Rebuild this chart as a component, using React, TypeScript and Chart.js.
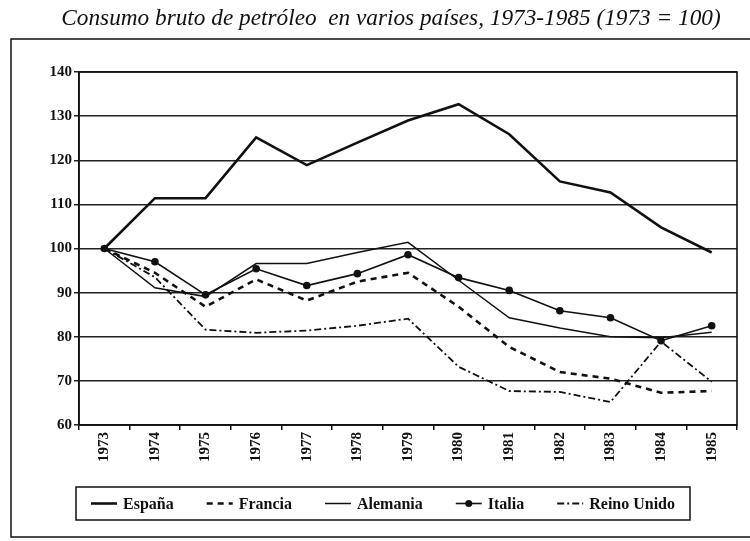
import { useEffect, useRef } from "react";
import { Chart, registerables } from "chart.js";
Chart.register(...registerables);

const title = "Consumo bruto de petróleo  en varios países, 1973-1985 (1973 = 100)";
const years = ["1973", "1974", "1975", "1976", "1977", "1978", "1979", "1980", "1981", "1982", "1983", "1984", "1985"];
const espana = [100, 111.4, 111.4, 125.2, 118.9, 124, 129, 132.7, 125.9, 115.2, 112.7, 104.8, 99.1];
const francia = [100, 94.5, 86.8, 93, 88.2, 92.5, 94.5, 86.8, 77.7, 72, 70.5, 67.3, 67.7];
const alemania = [100, 91.1, 89.1, 96.6, 96.6, 99.1, 101.4, 92.8, 84.3, 82, 80, 79.8, 81];
const italia = [100, 97, 89.5, 95.4, 91.6, 94.3, 98.6, 93.4, 90.5, 85.9, 84.3, 79.1, 82.5];
const reinoUnido = [100, 93.5, 81.6, 80.9, 81.4, 82.5, 84.1, 73.2, 67.7, 67.5, 65.2, 78.9, 69.8];
const yTicks = [60, 70, 80, 90, 100, 110, 120, 130, 140];

const INK = "#111";
const SERIF = '"Liberation Serif", "DejaVu Serif", serif';

const framePlugin = {
  id: "frame",
  beforeDatasetsDraw(chart: any) {
    const { ctx, chartArea: a } = chart;
    ctx.save();
    ctx.strokeStyle = INK;
    ctx.lineWidth = 1.6;
    ctx.strokeRect(a.left, a.top, a.right - a.left, a.bottom - a.top);
    ctx.restore();
  },
  afterDraw(chart: any) {
    const { ctx } = chart;
    ctx.save();
    // outer frame
    ctx.strokeStyle = INK;
    ctx.lineWidth = 1.5;
    ctx.strokeRect(11, 39, 750, 498);
    // title
    let size = 21;
    ctx.font = `italic ${size}px ${SERIF}`;
    const w = ctx.measureText(title).width;
    size = (size * 660) / w;
    ctx.font = `italic ${size}px ${SERIF}`;
    ctx.fillStyle = INK;
    ctx.textAlign = "center";
    ctx.textBaseline = "alphabetic";
    ctx.fillText(title, 391, 25);
    // legend
    const ds = chart.data.datasets;
    ctx.font = `bold 16px ${SERIF}`;
    const sample = 26, gap = 6, sep = 33;
    const widths = ds.map((d: any) => sample + gap + ctx.measureText(d.label).width);
    const total = widths.reduce((s: number, v: number) => s + v, 0) + sep * (ds.length - 1);
    const boxL = 76, boxR = 690, boxT = 487, boxB = 520;
    ctx.lineWidth = 1.5;
    ctx.strokeRect(boxL, boxT, boxR - boxL, boxB - boxT);
    let x = (boxL + boxR) / 2 - total / 2;
    const cy = (boxT + boxB) / 2;
    ds.forEach((d: any, i: number) => {
      ctx.save();
      ctx.strokeStyle = INK;
      ctx.lineWidth = d.borderWidth;
      ctx.setLineDash(d.borderDash || []);
      ctx.beginPath();
      ctx.moveTo(x, cy);
      ctx.lineTo(x + sample, cy);
      ctx.stroke();
      if (d.pointRadius > 0) {
        ctx.setLineDash([]);
        ctx.fillStyle = INK;
        ctx.beginPath();
        ctx.arc(x + sample / 2, cy, d.pointRadius + 0.5, 0, Math.PI * 2);
        ctx.fill();
      }
      ctx.restore();
      ctx.fillStyle = INK;
      ctx.textAlign = "left";
      ctx.textBaseline = "middle";
      ctx.fillText(d.label, x + sample + gap, cy + 1);
      x += widths[i] + sep;
    });
    ctx.restore();
  },
};

export default function App() {
  const ref = useRef<HTMLCanvasElement | null>(null);
  useEffect(() => {
    if (!ref.current) return;
    const tickFont = { family: SERIF, size: 15, weight: "bold" as const };
    const chart = new Chart(ref.current, {
      type: "line",
      data: {
        labels: years,
        datasets: [
          { label: "España", data: espana, borderColor: INK, borderWidth: 2.6, pointRadius: 0, borderDash: [] },
          { label: "Francia", data: francia, borderColor: INK, borderWidth: 2.6, pointRadius: 0, borderDash: [6, 5] },
          { label: "Alemania", data: alemania, borderColor: INK, borderWidth: 1.5, pointRadius: 0, borderDash: [] },
          { label: "Italia", data: italia, borderColor: INK, borderWidth: 1.6, pointRadius: 3, pointBackgroundColor: INK, pointBorderColor: INK, borderDash: [] },
          { label: "Reino Unido", data: reinoUnido, borderColor: INK, borderWidth: 1.8, pointRadius: 0, borderDash: [7, 3, 2, 3] },
        ] as any,
      },
      options: {
        animation: false,
        responsive: true,
        maintainAspectRatio: false,
        layout: { padding: { top: 72, right: 13, left: 0, bottom: 0 } },
        elements: { line: { tension: 0 } },
        plugins: { legend: { display: false }, title: { display: false }, tooltip: { enabled: false } },
        scales: {
          x: {
            type: "category",
            offset: true,
            grid: { offset: true, drawOnChartArea: false, drawTicks: true, tickLength: 5, color: INK, lineWidth: 1.5 },
            border: { display: true, color: INK, width: 1.6 },
            ticks: { maxRotation: 90, minRotation: 90, autoSkip: false, font: tickFont, color: INK, padding: 2 },
            afterFit: (s: any) => { s.height = 116; },
          },
          y: {
            min: 60,
            max: 140,
            afterBuildTicks: (s: any) => { s.ticks = yTicks.map((v) => ({ value: v })); },
            grid: { color: "#222", lineWidth: 1.5, tickLength: 5 },
            border: { display: true, color: INK, width: 1.6 },
            ticks: { font: tickFont, color: INK, padding: 2 },
            afterFit: (s: any) => { s.width = 79; },
          },
        },
      },
      plugins: [framePlugin],
    });
    return () => chart.destroy();
  }, []);
  return (
    <div style={{ position: "absolute", left: 0, top: 0, width: 750, height: 541 }}>
      <canvas ref={ref} />
    </div>
  );
}
